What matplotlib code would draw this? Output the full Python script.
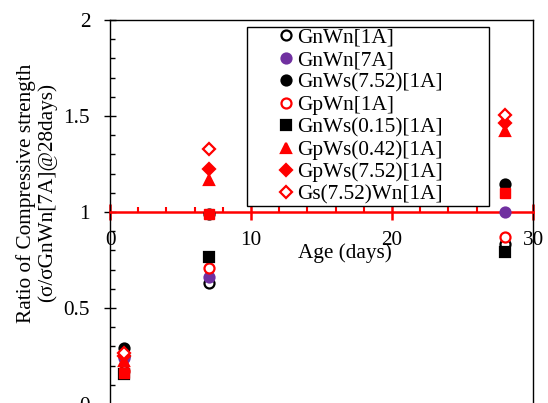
import matplotlib
matplotlib.use("Agg")
import matplotlib.pyplot as plt
from matplotlib.ticker import MultipleLocator, FuncFormatter

plt.rcParams["font.family"] = ["Liberation Serif", "DejaVu Serif"]
FS = 15.3

# Age in days
days = [1, 7, 28]

# Strength ratios
gnwn_1a = [0.25, 0.63, 0.835]
gnwn_7a = [0.24, 0.66, 1.00]
gnws752_1a = [0.29, 0.99, 1.147]
gpwn_1a = [0.17, 0.71, 0.87]
gnws015_1a = [0.155, 0.765, 0.793]
gpws042_1a = [0.225, 1.165, 1.42]
gpws752_1a = [0.25, 1.225, 1.462]
gs752wn_1a = [0.265, 1.33, 1.503]
unlabeled_red_sq = [0.16, 0.99, 1.10]  # red squares, not in legend

RED = "#ff0000"
PURPLE = "#7030a0"

series = [
    ("GnWn[1A]", gnwn_1a, "o", "white", "black"),
    ("GnWn[7A]", gnwn_7a, "o", PURPLE, PURPLE),
    ("GnWs(7.52)[1A]", gnws752_1a, "o", "black", "black"),
    ("GpWn[1A]", gpwn_1a, "o", "white", RED),
    ("GnWs(0.15)[1A]", gnws015_1a, "s", "black", "black"),
    ("GpWs(0.42)[1A]", gpws042_1a, "^", RED, RED),
    ("GpWs(7.52)[1A]", gpws752_1a, "D", RED, RED),
    ("Gs(7.52)Wn[1A]", gs752wn_1a, "D", "white", RED),
]

fig = plt.figure(figsize=(5.48, 4.03), dpi=100)
ax = fig.add_axes([110 / 548, -1 / 403, 423 / 548, 384 / 403])

for label, vals, mk, fc, ec in series:
    ms = 6.3 if mk == "D" else 7.2
    ax.plot(days, vals, linestyle="none", marker=mk, markersize=ms,
            markerfacecolor=fc, markeredgecolor=ec, markeredgewidth=1.6,
            label=label, zorder=3)
ax.plot(days, unlabeled_red_sq, linestyle="none", marker="s", markersize=7.2,
        markerfacecolor=RED, markeredgecolor=RED, zorder=3, label="_nolegend_")

ax.set_xlim(0, 30)
ax.set_ylim(0, 2)

# x axis crosses at y = 1 as a red line
ax.spines["bottom"].set_position(("data", 1))
ax.spines["bottom"].set_color(RED)
ax.spines["bottom"].set_linewidth(1.8)
for s in ("left", "top", "right"):
    ax.spines[s].set_color("black")
    ax.spines[s].set_linewidth(1.0)

ax.xaxis.set_major_locator(MultipleLocator(10))
ax.xaxis.set_minor_locator(MultipleLocator(2))
ax.yaxis.set_major_locator(MultipleLocator(0.5))
ax.yaxis.set_minor_locator(MultipleLocator(0.1))
ax.yaxis.set_major_formatter(FuncFormatter(lambda v, p: f"{v:g}"))

ax.tick_params(axis="x", which="major", direction="inout", length=11, width=1.8,
               color=RED, labelcolor="black", labelsize=FS, pad=8, top=False)
ax.tick_params(axis="x", which="minor", direction="in", length=3.6, width=1.5,
               color=RED, top=False)
ax.tick_params(axis="y", which="major", direction="inout", length=8.5, width=1.0,
               color="black", labelsize=FS, pad=10, right=False)
ax.tick_params(axis="y", which="minor", direction="in", length=3.6, width=1.0,
               right=False)

fig.text(345 / 548, 1 - 253 / 403, "Age (days)", ha="center", va="center", fontsize=FS)
fig.text(37 / 548, 1 - 193 / 403,
         "Ratio of Compressive strength\n(\u03c3/\u03c3GnWn[7A]@28days)",
         rotation=90, ha="center", va="center", multialignment="center",
         fontsize=FS, linespacing=1.1)

leg = ax.legend(loc="upper left", bbox_to_anchor=(0.324, 0.523, 0.572, 0.459),
                mode="expand", borderaxespad=0, fontsize=FS, numpoints=1,
                fancybox=False, framealpha=1, edgecolor="black",
                handlelength=3.6, handletextpad=-1.3, labelspacing=0.12,
                borderpad=0.05)
leg.get_frame().set_linewidth(1.0)

fig.savefig("out.png", dpi=100)
